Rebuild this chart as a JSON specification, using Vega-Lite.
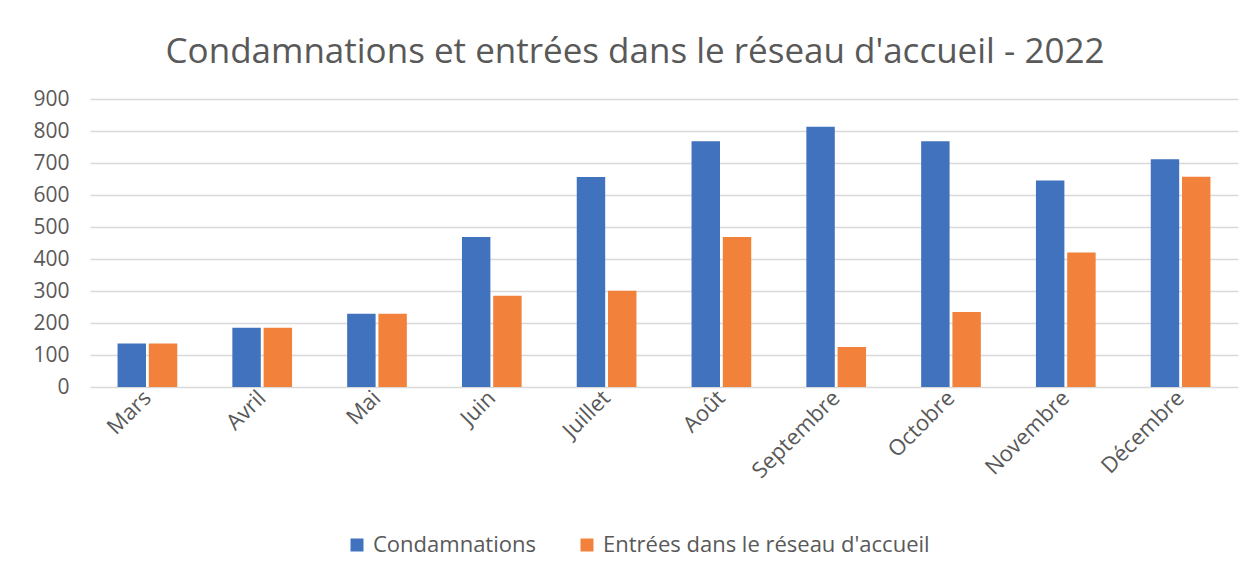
{
  "$schema": "https://vega.github.io/schema/vega-lite/v6.json",
  "autosize": {"type": "none"},
  "width": 1148,
  "height": 288,
  "padding": {"left": 90, "top": 99, "right": 11, "bottom": 188},
  "background": "white",
  "title": {
    "text": "Condamnations et entrées dans le réseau d'accueil - 2022",
    "font": "Open Sans",
    "fontSize": 35,
    "fontWeight": "normal",
    "color": "#595959",
    "anchor": "middle",
    "frame": "group",
    "dx": -29,
    "offset": 18
  },
  "data": {
    "values": [
      {"mois": "Mars", "serie": "Condamnations", "valeur": 136},
      {"mois": "Mars", "serie": "Entrées dans le réseau d'accueil", "valeur": 136},
      {"mois": "Avril", "serie": "Condamnations", "valeur": 185},
      {"mois": "Avril", "serie": "Entrées dans le réseau d'accueil", "valeur": 185},
      {"mois": "Mai", "serie": "Condamnations", "valeur": 229},
      {"mois": "Mai", "serie": "Entrées dans le réseau d'accueil", "valeur": 229},
      {"mois": "Juin", "serie": "Condamnations", "valeur": 469},
      {"mois": "Juin", "serie": "Entrées dans le réseau d'accueil", "valeur": 285},
      {"mois": "Juillet", "serie": "Condamnations", "valeur": 656},
      {"mois": "Juillet", "serie": "Entrées dans le réseau d'accueil", "valeur": 301},
      {"mois": "Août", "serie": "Condamnations", "valeur": 768},
      {"mois": "Août", "serie": "Entrées dans le réseau d'accueil", "valeur": 469},
      {"mois": "Septembre", "serie": "Condamnations", "valeur": 813},
      {"mois": "Septembre", "serie": "Entrées dans le réseau d'accueil", "valeur": 125},
      {"mois": "Octobre", "serie": "Condamnations", "valeur": 768},
      {"mois": "Octobre", "serie": "Entrées dans le réseau d'accueil", "valeur": 234},
      {"mois": "Novembre", "serie": "Condamnations", "valeur": 645},
      {"mois": "Novembre", "serie": "Entrées dans le réseau d'accueil", "valeur": 420},
      {"mois": "Décembre", "serie": "Condamnations", "valeur": 712},
      {"mois": "Décembre", "serie": "Entrées dans le réseau d'accueil", "valeur": 657}
    ]
  },
  "mark": {"type": "bar"},
  "encoding": {
    "x": {
      "field": "mois",
      "type": "nominal",
      "sort": null,
      "title": null,
      "scale": {"paddingInner": 0.48, "paddingOuter": 0.24},
      "axis": {
        "labelAngle": -45,
        "labelAlign": "right",
        "labelBaseline": "middle",
        "labelFont": "Open Sans",
        "labelFontSize": 22,
        "labelColor": "#595959",
        "labelPadding": 7,
        "ticks": false,
        "domain": false,
        "grid": false
      }
    },
    "xOffset": {
      "field": "serie",
      "type": "nominal",
      "scale": {"paddingInner": 0.09}
    },
    "y": {
      "field": "valeur",
      "type": "quantitative",
      "title": null,
      "scale": {"domain": [0, 900], "nice": false},
      "axis": {
        "values": [0, 100, 200, 300, 400, 500, 600, 700, 800, 900],
        "labelFont": "Open Sans",
        "labelFontSize": 21,
        "labelColor": "#595959",
        "labelPadding": 21,
        "ticks": false,
        "domain": false,
        "grid": true,
        "gridColor": "#D9D9D9",
        "gridWidth": 1.5
      }
    },
    "color": {
      "field": "serie",
      "type": "nominal",
      "title": null,
      "scale": {
        "domain": ["Condamnations", "Entrées dans le réseau d'accueil"],
        "range": ["#4072BD", "#F2823B"]
      },
      "legend": {
        "orient": "none",
        "direction": "horizontal",
        "legendX": 256,
        "legendY": 435,
        "symbolType": "square",
        "symbolSize": 169,
        "symbolStrokeWidth": 0,
        "labelFont": "Open Sans",
        "labelFontSize": 22,
        "labelLimit": 0,
        "labelColor": "#595959",
        "labelOffset": 5,
        "columnPadding": 40
      }
    }
  },
  "config": {
    "view": {"stroke": null}
  }
}
